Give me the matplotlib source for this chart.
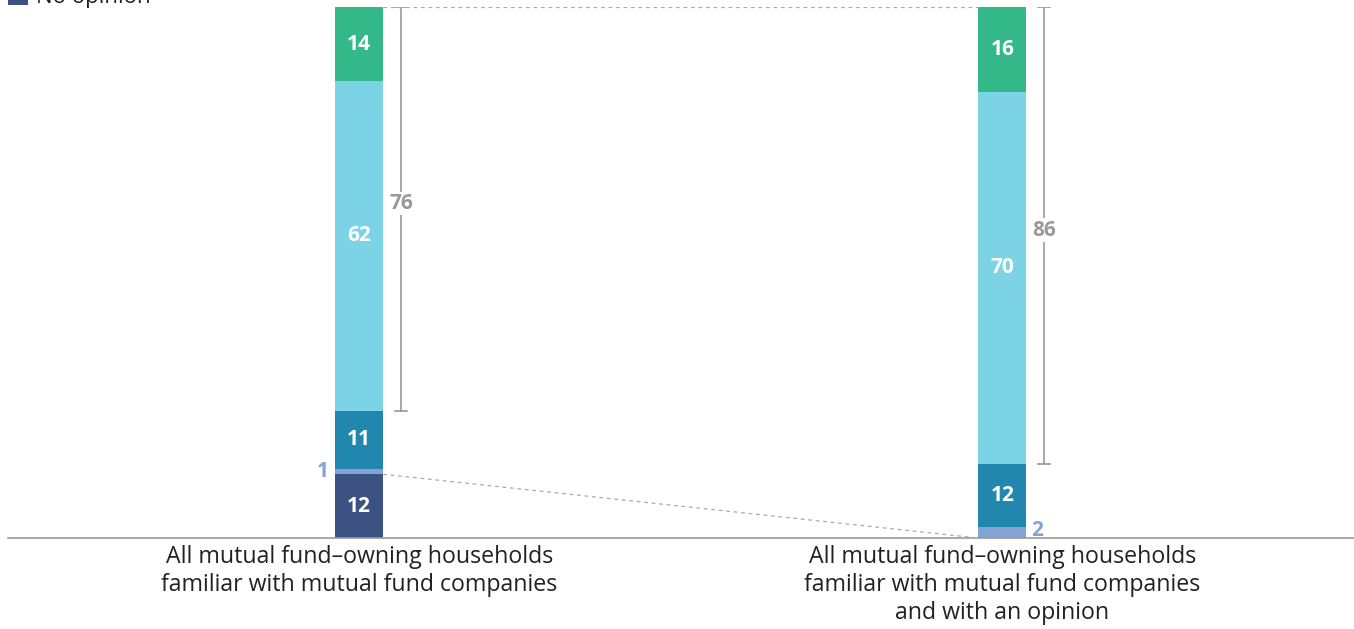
import matplotlib
matplotlib.use("Agg")
import matplotlib.pyplot as plt
from matplotlib.patches import Rectangle

categories = ["All mutual fund\u2013owning households\nfamiliar with mutual fund companies",
              "All mutual fund\u2013owning households\nfamiliar with mutual fund companies\nand with an opinion"]
series_names = ["No opinion", "Very unfavorable", "Somewhat unfavorable", "Somewhat favorable", "Very favorable"]
no_opinion = [12, 0]
very_unfav = [1, 2]
some_unfav = [11, 12]
some_fav = [62, 70]
very_fav = [14, 16]
fav_totals = [76, 86]

colors = ["#3b5282", "#82a3d3", "#2187ae", "#7dd3e6", "#33b88a"]
label_colors = ["white", "#82a3d3", "white", "white", "white"]

plt.rcParams['font.family'] = ['Open Sans', 'DejaVu Sans']
fig = plt.figure(figsize=(13.54, 6.29), dpi=100)
ax = fig.add_axes([8/1354, 1-538/629, 1-8/1354, (538-7)/629])
ax.set_xlim(-0.546, 1.547)
ax.set_ylim(0, 100)
for s in ax.spines.values():
    s.set_visible(False)
ax.set_xticks([]); ax.set_yticks([])
ax.axhline(0, color="#999999", lw=1.2, clip_on=False)

x = [0, 1]
w = 0.0747
series = [no_opinion, very_unfav, some_unfav, some_fav, very_fav]
bottoms = [0, 0]
for si, vals in enumerate(series):
    ax.bar(x, vals, width=w, bottom=bottoms, color=colors[si], linewidth=0)
    for i in range(2):
        v = vals[i]
        if v <= 0:
            continue
        if v >= 5:
            ax.text(x[i], bottoms[i] + v/2 + (2 if v > 40 else 0), str(v), ha="center", va="center",
                    color="white", fontsize=15, fontweight="bold")
        else:
            if i == 0:
                ax.text(x[i] - w/2 - 0.010, bottoms[i] + v/2, str(v), ha="right", va="center",
                        color=label_colors[si], fontsize=15, fontweight="bold")
            else:
                ax.text(x[i] + w/2 + 0.008, bottoms[i] + v/2 + 0.5, str(v), ha="left", va="center",
                        color=label_colors[si], fontsize=15, fontweight="bold")
    bottoms = [bottoms[j] + vals[j] for j in range(2)]

# brackets for favorable totals
bx_off = 0.0653
cap = 0.0095
for i in range(2):
    top = 100
    bot = 100 - fav_totals[i]
    bx = x[i] + bx_off
    ax.plot([bx, bx], [bot, top], color="#999999", lw=1.2)
    ax.plot([bx - cap, bx + cap], [top, top], color="#999999", lw=1.2)
    ax.plot([bx - cap, bx + cap], [bot, bot], color="#999999", lw=1.2)
    ax.text(bx, (top + bot) / 2 + 1, str(fav_totals[i]), ha="center", va="center",
            color="#999999", fontsize=15, fontweight="bold",
            bbox=dict(facecolor="white", edgecolor="none", pad=1))

# dotted connectors
ax.plot([x[0] + w/2, x[1] - w/2], [100, 100], color="#aaaaaa", lw=0.9, ls=(0, (3, 3)))
ax.plot([x[0] + w/2, x[1] - w/2], [no_opinion[0], 0], color="#aaaaaa", lw=0.9, ls=(0, (3, 3)))

# category labels
for i in range(2):
    ax.text(x[i], -1.4, categories[i], ha="center", va="top", fontsize=16.7,
            color="#222222", linespacing=1.22)

# legend entry (cut off at top)
fig.patches.append(Rectangle((8/1354, 1 - 5/629), 20/1354, 14/629, transform=fig.transFigure,
                             color=colors[0], linewidth=0))
fig.text(36/1354, 1 + 3/629, series_names[0], ha="left", va="center", fontsize=16, color="#222222")

fig.savefig("out.png", dpi=100)
